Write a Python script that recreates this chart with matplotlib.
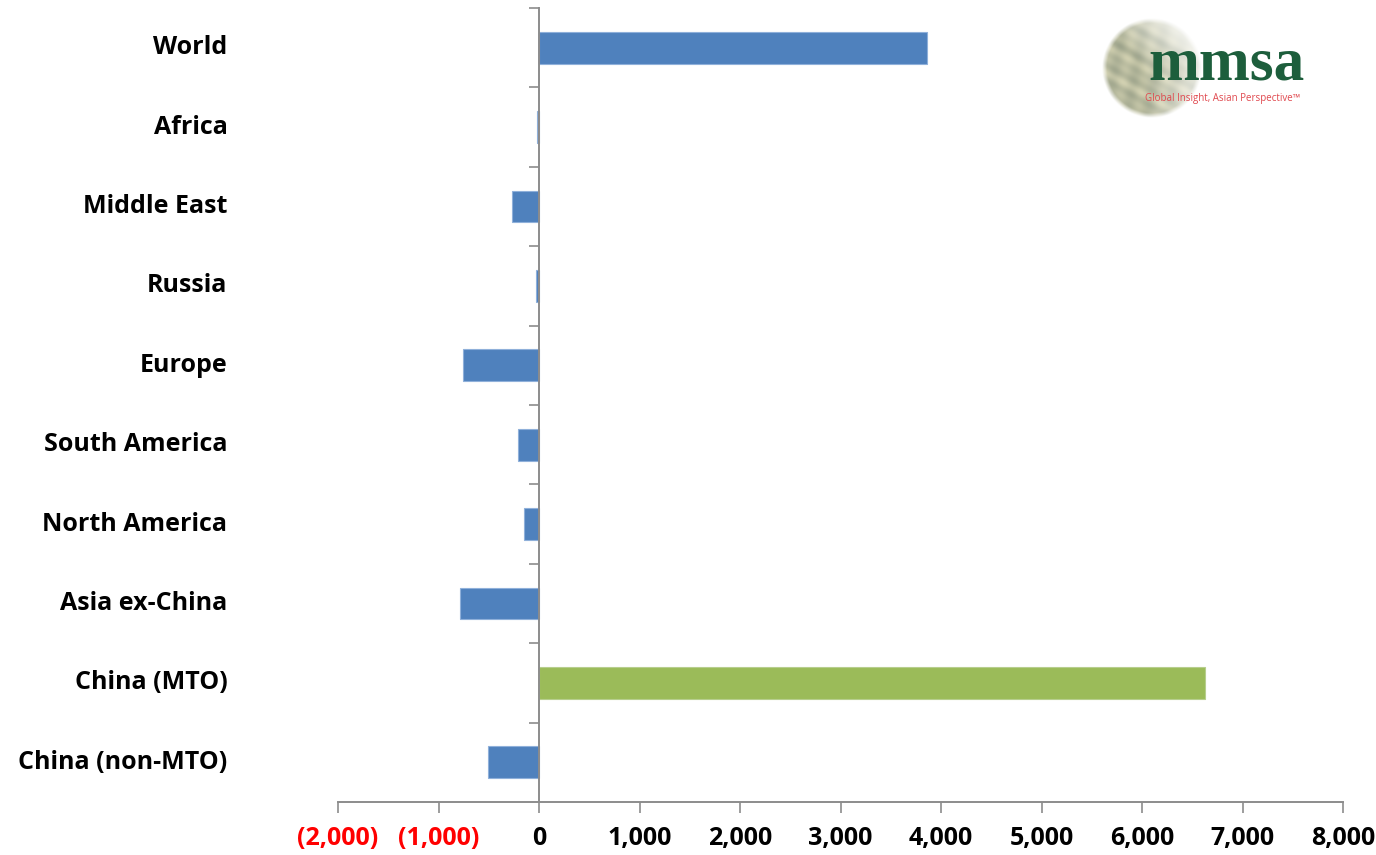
import numpy as np
import matplotlib
matplotlib.use("Agg")
import matplotlib.pyplot as plt
import matplotlib.transforms as mtransforms

# Capacity change by region (kt)
regions = ["World", "Africa", "Middle East", "Russia", "Europe", "South America",
           "North America", "Asia ex-China", "China (MTO)", "China (non-MTO)"]
change = [3860, -20, -270, -33, -760, -206, -146, -782, 6630, -510]
highlight = "China (MTO)"

x_ticks = list(range(-2000, 8001, 1000))

BLUE = "#4F81BD"
GREEN = "#9BBB59"
AXIS_GREY = "#8C8C8C"
FONT = "Open Sans"
FSIZE = 18

W, H = 1376, 855
fig = plt.figure(figsize=(W / 100, H / 100), dpi=100)
ax = fig.add_axes([338 / W, 1 - 802 / H, (1343 - 338) / W, (802 - 8) / H])

y = np.arange(len(regions))
colors = [GREEN if r == highlight else BLUE for r in regions]
edges = ["#B7CE8E" if r == highlight else "#8FB0DA" for r in regions]
ax.barh(y, change, height=0.4, color=colors, edgecolor=edges, linewidth=0.8, zorder=2)

ax.set_xlim(-2000, 8000)
ax.set_ylim(len(regions) - 0.5, -0.5)

# value axis: negatives in accounting style, shown in red
labels = [f"({abs(v):,})" if v < 0 else f"{v:,}" for v in x_ticks]
ax.set_xticks(x_ticks, labels=labels)
for lbl, v in zip(ax.get_xticklabels(), x_ticks):
    lbl.set_fontfamily(FONT)
    lbl.set_fontweight("bold")
    lbl.set_fontsize(FSIZE)
    lbl.set_color("red" if v < 0 else "black")
ax.tick_params(axis="x", length=8, width=1.2, color=AXIS_GREY, direction="out", pad=9)

# category axis sits at zero, ticks between categories
for side in ("top", "right"):
    ax.spines[side].set_visible(False)
ax.spines["left"].set_position(("data", 0))
for side in ("left", "bottom"):
    ax.spines[side].set_color(AXIS_GREY)
    ax.spines[side].set_linewidth(1.4)
    ax.spines[side].set_zorder(3)
ax.set_yticks(y)
ax.tick_params(axis="y", which="major", length=0, labelleft=False)
ax.set_yticks(np.arange(-0.5, len(regions) - 1), minor=True)
ax.tick_params(axis="y", which="minor", length=7.5, width=1.2, color=AXIS_GREY, direction="out")

# category labels at the low end of the plot area
trans = mtransforms.blended_transform_factory(ax.transAxes, ax.transData)
for yi, name in zip(y, regions):
    ax.text(-0.11, yi, name, transform=trans, ha="right", va="center",
            fontsize=FSIZE, fontweight="bold", family=FONT)

# logo: faded globe with wordmark
gax = fig.add_axes([1102 / W, 1 - 118 / H, 100 / W, 100 / H])
n = 240
yy, xx = np.mgrid[-1:1:n * 1j, 1:-1:n * 1j]
rr = np.hypot(xx, yy)
swirl = np.sin(11 * xx + 5 * yy) * np.cos(8 * yy - 4 * xx) + 0.5 * np.sin(23 * yy + 13 * xx)
img = np.zeros((n, n, 4))
img[..., 0] = 0.72 + 0.07 * swirl
img[..., 1] = 0.73 + 0.06 * swirl
img[..., 2] = 0.62 + 0.05 * swirl
fade = np.clip(0.9 + 0.6 * xx - 0.45 * np.clip(-yy, 0, 1), 0, 1)
img[..., 3] = np.where(rr < 1, fade * np.clip((1 - rr) * 10, 0, 1), 0)
gax.imshow(img, extent=(-1, 1, -1, 1), interpolation="bilinear")
gax.axis("off")

fig.text(1148 / W, 1 - 65 / H, "mmsa", ha="left", va="center", fontsize=44,
         fontweight="bold", family="Liberation Serif", color="#1D5E3C")
fig.text(1145 / W, 1 - 98 / H, "Global Insight, Asian Perspective\u2122", ha="left",
         va="center", fontsize=7.0, family="Open Sans", color="#E0484E")

fig.savefig("out.png", dpi=100)
